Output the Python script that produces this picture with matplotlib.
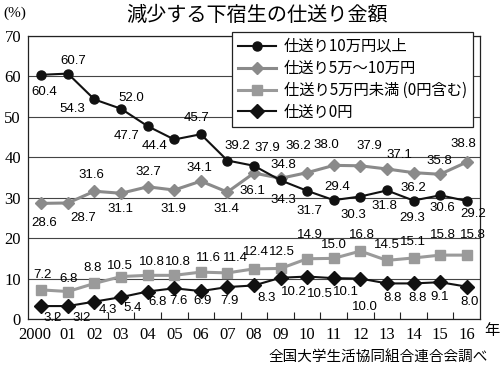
import matplotlib
matplotlib.use('Agg')
import matplotlib.pyplot as plt
from matplotlib.ticker import FixedLocator, NullFormatter
import matplotlib.transforms as mtransforms

# data (survey years, percent of students)
years = ['2000', '01', '02', '03', '04', '05', '06', '07', '08',
         '09', '10', '11', '12', '13', '14', '15', '16']
over_10man = [60.4, 60.7, 54.3, 52.0, 47.7, 44.4, 45.7, 39.2, 37.9,
              34.3, 31.7, 29.4, 30.3, 31.8, 29.3, 30.6, 29.2]
from_5_to_10man = [28.6, 28.7, 31.6, 31.1, 32.7, 31.9, 34.1, 31.4, 36.1,
                   34.8, 36.2, 38.0, 37.9, 37.1, 36.2, 35.8, 38.8]
under_5man = [7.2, 6.8, 8.8, 10.5, 10.8, 10.8, 11.6, 11.4, 12.4,
              12.5, 14.9, 15.0, 16.8, 14.5, 15.1, 15.8, 15.8]
zero_yen = [3.2, 3.2, 4.3, 5.4, 6.8, 7.6, 6.9, 7.9, 8.3,
            10.2, 10.5, 10.1, 10.0, 8.8, 8.8, 9.1, 8.0]
series_names = ['仕送り10万円以上', '仕送り5万～10万円',
                '仕送り5万円未満 (0円含む)', '仕送り0円']
yticks = [0, 10, 20, 30, 40, 50, 60, 70]

# label offsets in pixels (dx, dy)
off_over_10man = [(3, -17), (5, 13), (-22, -10), (10, 11), (-21, -10), (-20, -7),
                  (-4, 16), (10, 15), (13, 18), (3, -20), (2, -20), (3, 13),
                  (-7, -18), (-3, -16), (-1, -17), (2, -13), (6, -13)]
off_5_to_10man = [(3, -20), (15, -15), (-3, 16), (-1, -16), (1, 15), (-1, -19),
                  (-1, 13), (-1, -17), (-2, -18), (3, 13), (-9, 27), (-7, 20),
                  (9, 20), (12, 14), (0, -15), (-1, 13), (-3, 18)]
off_under_5man = [(1, 15), (1, 13), (-2, 15), (-1, 11), (4, 13), (4, 13),
                  (8, 14), (8, 15), (2, 17), (1, 16), (3, 24), (0, 13),
                  (2, 16), (0, 15), (-1, 16), (3, 20), (6, 20)]
off_zero_yen = [(11, -12), (14, -12), (13, -8), (12, -11), (10, -10), (4, -13),
                (2, -10), (2, -14), (13, -13), (13, -14), (13, -17), (12, -14),
                (5, -28), (6, -15), (4, -15), (0, -15), (3, -15)]

CJK = ['Noto Sans CJK JP', 'DejaVu Sans']


def put_labels(ax, xs, values, offsets):
    for x, v, (dx, dy) in zip(xs, values, offsets):
        ax.annotate('%.1f' % v, (x, v), xytext=(dx, dy),
                    textcoords='offset pixels', ha='center', va='center',
                    fontsize=9.5, family='Liberation Sans', color='black',
                    zorder=6)


def main():
    fig = plt.figure(figsize=(5.0, 3.71), dpi=100)
    ax = fig.add_axes([28 / 500, 1 - 319 / 371, 452 / 500, 283 / 371])
    xs = list(range(len(years)))

    # lines
    ax.plot(xs, over_10man, color='#111111', lw=1.5, marker='o', ms=6.5,
            label=series_names[0], zorder=4)
    ax.plot(xs, from_5_to_10man, color='#8a8a8a', lw=2.2, marker='D', ms=6.5,
            label=series_names[1], zorder=3)
    ax.plot(xs, under_5man, color='#9a9a9a', lw=2.2, marker='s', ms=6.5,
            label=series_names[2], zorder=3)
    ax.plot(xs, zero_yen, color='#111111', lw=1.5, marker='D', ms=7,
            label=series_names[3], zorder=4)

    # value labels
    put_labels(ax, xs, over_10man, off_over_10man)
    put_labels(ax, xs, from_5_to_10man, off_5_to_10man)
    put_labels(ax, xs, under_5man, off_under_5man)
    put_labels(ax, xs, zero_yen, off_zero_yen)

    # axes
    ax.set_xlim(-0.5, len(years) - 0.5)
    ax.set_ylim(0, 70)
    ax.set_yticks(yticks)
    ax.set_yticklabels([str(t) for t in yticks], family='Liberation Serif',
                       fontsize=12)
    ax.tick_params(axis='y', length=0, pad=5)
    ax.set_xticks(xs)
    ax.set_xticklabels(years, family='Liberation Serif', fontsize=12)
    ax.tick_params(axis='x', which='major', length=0, pad=6)
    ax.xaxis.set_minor_locator(FixedLocator([i + 0.5 for i in xs[:-1]]))
    ax.xaxis.set_minor_formatter(NullFormatter())
    ax.tick_params(axis='x', which='minor', direction='in', length=5,
                   width=0.8, color='#222222')
    # "2000" sits a bit left in the original
    first = ax.get_xticklabels()[0]
    first.set_transform(first.get_transform() +
                        mtransforms.ScaledTranslation(-7 / 100, 0, fig.dpi_scale_trans))
    ax.grid(axis='y', color='#444444', lw=0.8, zorder=1)
    ax.set_axisbelow(True)
    for sp in ax.spines.values():
        sp.set_color('#222222')
        sp.set_linewidth(0.9)

    # legend
    leg = ax.legend(loc='upper left', bbox_to_anchor=(0.451, 1.014),
                    borderaxespad=0, prop={'family': CJK, 'size': 11},
                    frameon=True, fancybox=False, handlelength=2.5,
                    handletextpad=0.5, labelspacing=0.32, borderpad=0.4)
    leg.get_frame().set_edgecolor('#222222')
    leg.get_frame().set_linewidth(0.9)
    leg.get_frame().set_alpha(1)
    leg.set_zorder(10)

    # texts
    fig.text(257 / 500, 1 - 15 / 371, '減少する下宿生の仕送り金額', ha='center',
             va='center', fontsize=14.5, family=CJK)
    fig.text(3 / 500, 1 - 13 / 371, '(%)', ha='left', va='center',
             fontsize=11, family='Liberation Serif')
    fig.text(492 / 500, 1 - 331 / 371, '年', ha='center', va='center',
             fontsize=11, family=CJK)
    fig.text(488 / 500, 1 - 357 / 371, '全国大学生活協同組合連合会調べ',
             ha='right', va='center', fontsize=10.5, family=CJK)

    fig.savefig('out.png', dpi=100)


if __name__ == '__main__':
    main()
